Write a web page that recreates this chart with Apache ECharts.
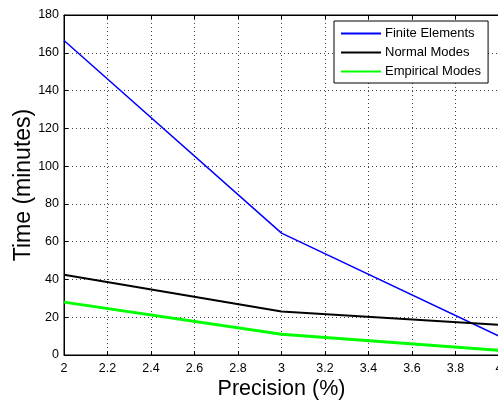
<!DOCTYPE html>
<html>
<head>
<meta charset="utf-8">
<script src="https://cdn.jsdelivr.net/npm/echarts@6/dist/echarts.min.js"></script>
<style>
  html, body { margin: 0; padding: 0; background: #fff; }
  #chart { width: 498px; height: 401px; }
</style>
</head>
<body>
<div id="chart"></div>
<script>
// Computation time versus target precision for three solvers
const precision = [2, 3, 4];
const finiteElements = [166.5, 64.5, 10];
const normalModes = [42.5, 23, 16];
const empiricalModes = [28, 11, 2.5];
const seriesNames = ['Finite Elements', 'Normal Modes', 'Empirical Modes'];

const pairs = (ys) => precision.map((x, i) => [x, ys[i]]);
const font = 'Liberation Sans, Arial, sans-serif';
const dotted = { color: '#444', width: 1, type: [1, 3] };

const chart = echarts.init(document.getElementById('chart'), null, { renderer: 'canvas' });
chart.setOption({
  animation: false,
  backgroundColor: '#fff',
  grid: {
    left: 64, top: 15, width: 435, height: 340,
    containLabel: false, outerBoundsMode: 'none',
    show: true, borderColor: '#000', borderWidth: 1
  },
  legend: {
    data: seriesNames,
    orient: 'vertical',
    left: 334,
    top: 21,
    backgroundColor: '#fff',
    borderColor: '#000',
    borderWidth: 1,
    padding: [6, 7, 5, 7],
    itemWidth: 40,
    itemHeight: 2,
    itemGap: 6,
    icon: 'rect',
    textStyle: { fontFamily: font, fontSize: 13, color: '#000', padding: [0, 0, 0, -1] }
  },
  xAxis: [{
    type: 'value',
    min: 2, max: 4, interval: 0.2,
    name: 'Precision (%)',
    nameLocation: 'middle',
    nameGap: 23,
    nameMoveOverlap: false,
    nameTextStyle: { fontFamily: font, fontSize: 21.5, color: '#000' },
    axisLine: { lineStyle: { color: '#000', width: 1 } },
    axisTick: { inside: true, length: 4, lineStyle: { color: '#000' } },
    axisLabel: {
      fontFamily: font, fontSize: 12.5, color: '#000', margin: 7,
      formatter: (v) => String(Math.round(v * 10) / 10)
    },
    splitLine: { show: true, lineStyle: dotted }
  }, {
    type: 'value',
    position: 'top',
    min: 2, max: 4, interval: 0.2,
    axisLine: { lineStyle: { color: '#000' } },
    axisTick: { inside: true, length: 4, lineStyle: { color: '#000' } },
    axisLabel: { show: false },
    splitLine: { show: false }
  }],
  yAxis: {
    type: 'value',
    min: 0, max: 180, interval: 20,
    name: 'Time (minutes)',
    nameLocation: 'middle',
    nameGap: 29,
    nameMoveOverlap: false,
    nameTextStyle: { fontFamily: font, fontSize: 23, color: '#000' },
    axisLine: { show: true, lineStyle: { color: '#000', width: 1 } },
    axisTick: { show: true, inside: true, length: 4, lineStyle: { color: '#000' } },
    axisLabel: { fontFamily: font, fontSize: 12.5, color: '#000', margin: 5 },
    splitLine: { show: true, lineStyle: dotted }
  },
  series: [
    { name: seriesNames[0], type: 'line', data: pairs(finiteElements), symbol: 'none',
      color: '#0000ff', lineStyle: { color: '#0000ff', width: 1.5 } },
    { name: seriesNames[1], type: 'line', data: pairs(normalModes), symbol: 'none',
      color: '#000000', lineStyle: { color: '#000000', width: 2 } },
    { name: seriesNames[2], type: 'line', data: pairs(empiricalModes), symbol: 'none',
      color: '#00ff00', lineStyle: { color: '#00ff00', width: 3 } }
  ]
});
</script>
</body>
</html>
